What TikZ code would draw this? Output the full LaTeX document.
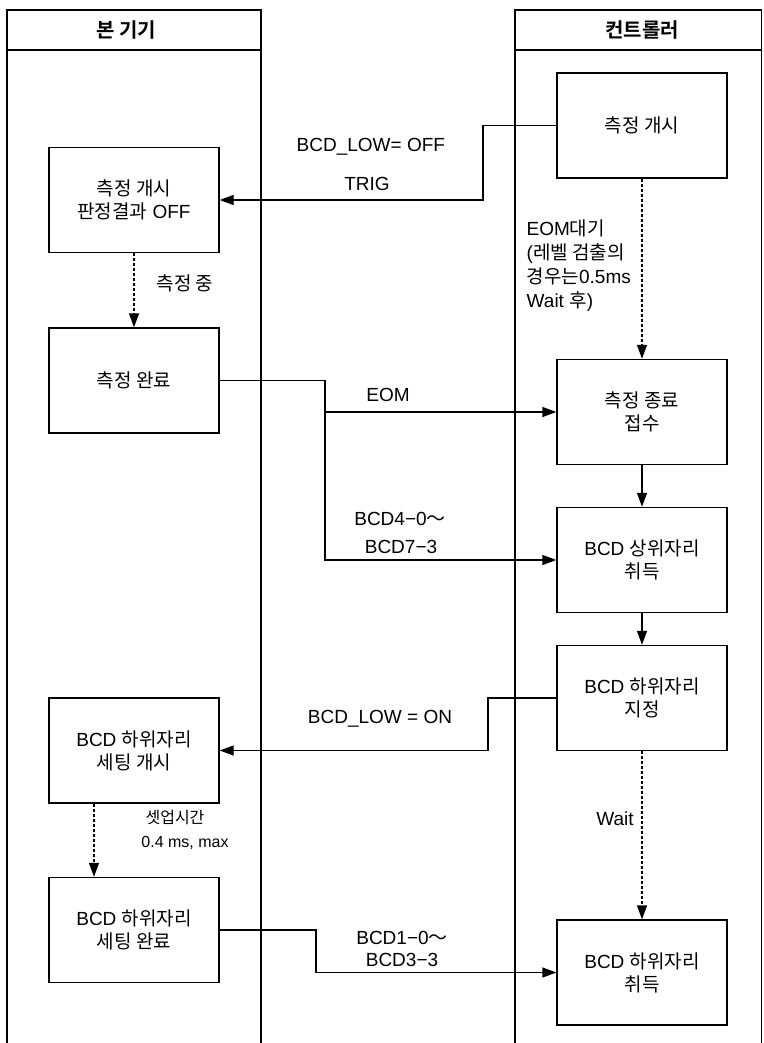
\documentclass[tikz,border=0pt]{standalone}
\usepackage{fontspec}
\setmainfont{Liberation Sans}
\newfontfamily\kr[BoldFont={Noto Sans CJK KR Bold}]{Noto Sans CJK KR}
\usetikzlibrary{arrows.meta}
\begin{document}
\begin{tikzpicture}[x=1pt,y=-1pt, line width=1.4pt,
  box/.style={draw, minimum width=170pt, minimum height=105pt, inner sep=0pt, align=center, font=\fontsize{19}{23}\selectfont},
  hdr/.style={inner sep=0pt, font=\fontsize{20}{24}\selectfont\kr\bfseries},
  lbl/.style={font=\fontsize{19}{24}\selectfont, inner sep=0pt, align=center},
  sml/.style={font=\fontsize{16}{20}\selectfont, inner sep=0pt},
  arr/.style={-{Triangle[length=14pt,width=10pt]}},
  dsh/.style={arr, dash pattern=on 3pt off 2pt}]
\useasboundingbox (0,0) rectangle (763,1043);
% lanes
\draw (7,1043) -- (7,10) -- (261,10) -- (261,1043);
\draw (7,50) -- (261,50);
\draw (515,1043) -- (515,10) -- (761.5,10) -- (761.5,1043);
\draw (515,50) -- (761.5,50);
\node[hdr] (hL) at (126,30) {본 기기};
\node[hdr] (hR) at (642,30) {컨트롤러};
% boxes
\node[box] (r1) at (642,125.5) {{\kr 측정 개시}};
\node[box] (l1) at (134,200) {{\kr 측정 개시}\\{\kr 판정결과} OFF};
\node[box] (l2) at (134,380.5) {{\kr 측정 완료}};
\node[box] (r2) at (642,412) {{\kr 측정 종료}\\{\kr 접수}};
\node[box] (r3) at (642,560) {BCD {\kr 상위자리}\\{\kr 취득}};
\node[box] (r4) at (642,698) {BCD {\kr 하위자리}\\{\kr 지정}};
\node[box] (l3) at (134,750.5) {BCD {\kr 하위자리}\\{\kr 세팅 개시}};
\node[box] (l4) at (134,930) {BCD {\kr 하위자리}\\{\kr 세팅 완료}};
\node[box] (r5) at (642,972.5) {BCD {\kr 하위자리}\\{\kr 취득}};
% connectors
\coordinate (c1) at (483,200);
\draw[arr] (r1.west) -| (c1) -- (l1.east);
\node[lbl, anchor=west] (tLowOff) at (296,147) {BCD\_LOW= OFF};
\node[lbl] (tTrig) at (367,184) {TRIG};
\draw[dsh] (l1.south) -- (l2.north);
\node[lbl] (tMeas) at (185,283) {{\kr 측정 중}};
\draw[dsh] (r1.south) -- (r2.north);
\node[lbl, align=left, anchor=west] (tEom) at (526,266) {EOM{\kr 대기}\\({\kr 레벨 검출의}\\{\kr 경우는}0.5ms\\Wait {\kr 후})};
\coordinate (c2) at (325,412);
\draw (l2.east) -| (c2);
\draw[arr] (c2) -- (r2.west);
\draw[arr] (c2) |- (r3.west);
\node[lbl] (tEomSig) at (388,395) {EOM};
\node[lbl] (tBcdA) at (400,519) {BCD4−0{\kr ～}};
\node[lbl] (tBcdB) at (401,547) {BCD7−3};
\draw[arr] (r2.south) -- (r3.north);
\draw[arr] (r3.south) -- (r4.north);
\coordinate (c4) at (488,750.5);
\draw[arr] (r4.west) -| (c4) -- (l3.east);
\node[lbl] (tLowOn) at (380,719) {BCD\_LOW = ON};
\draw[dsh] ([xshift=-40pt]l3.south) -- ([xshift=-40pt]l4.north);
\node[sml] (tSetup) at (175,818) {{\kr 셋업시간}};
\node[sml] (tSetupV) at (185,843) {0.4 ms, max};
\draw[dsh] (r4.south) -- (r5.north);
\node[lbl] (tWait) at (615,819) {Wait};
\coordinate (c5) at (316,972.5);
\draw[arr] (l4.east) -| (c5) -- (r5.west);
\node[lbl] (tBcdC) at (402,938) {BCD1−0{\kr ～}};
\node[lbl] (tBcdD) at (402,960) {BCD3−3};
\end{tikzpicture}
\end{document}
